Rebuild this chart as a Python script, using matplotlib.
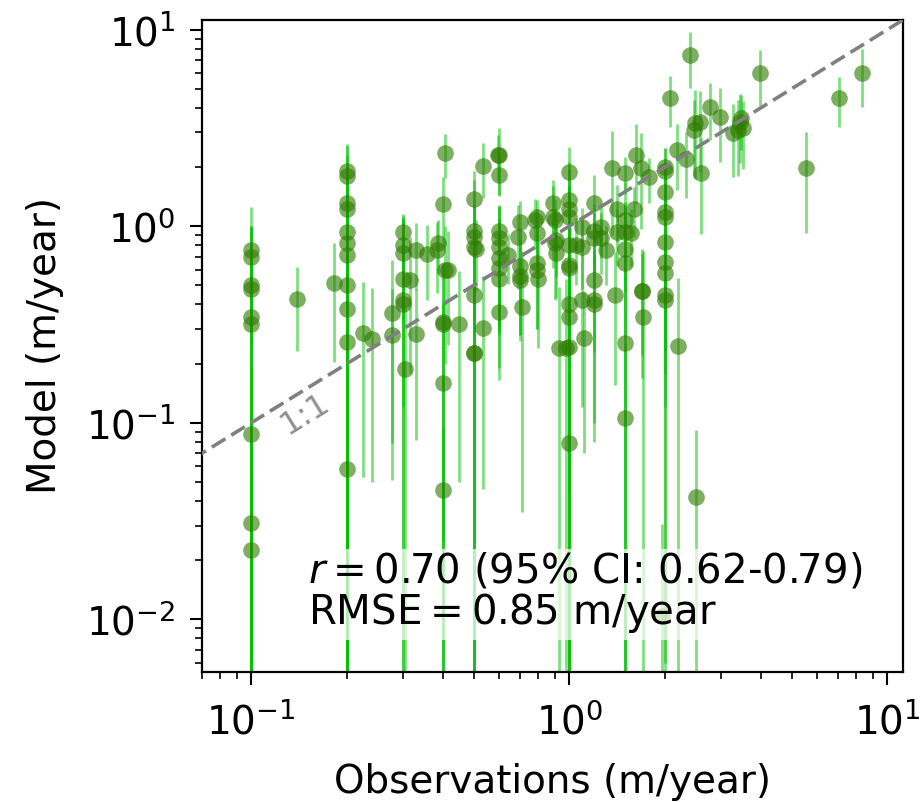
import numpy as np
import matplotlib
matplotlib.use("Agg")
import matplotlib.pyplot as plt

# Observations (m/year)
obs = [0.1, 0.1, 0.1, 0.1, 0.1, 0.1, 0.1, 0.1, 0.1,
       0.139, 0.182,
       0.2, 0.2, 0.2, 0.2, 0.2, 0.2, 0.2, 0.2, 0.2, 0.2, 0.2,
       0.224, 0.239, 0.278, 0.278,
       0.3, 0.3, 0.3, 0.3, 0.3, 0.3, 0.305, 0.316,
       0.33, 0.33, 0.357, 0.384, 0.387,
       0.407, 0.4, 0.407, 0.416, 0.4, 0.4, 0.4, 0.4,
       0.45,
       0.5, 0.5, 0.5, 0.5, 0.51, 0.5, 0.5, 0.5,
       0.535, 0.535,
       0.596, 0.6, 0.6, 0.6, 0.6, 0.6, 0.6, 0.6, 0.6, 0.6,
       0.64,
       0.70, 0.69, 0.70, 0.70, 0.70, 0.71,
       0.78, 0.79, 0.79, 0.79, 0.79, 0.80,
       0.89, 0.89, 0.90, 0.91, 0.90, 0.91, 0.93,
       1.0, 1.0, 1.0, 1.0, 1.0, 1.05, 1.0, 1.0, 1.0, 1.0, 1.0, 0.98, 1.0,
       1.1, 1.1, 1.1, 1.11,
       1.2, 1.2, 1.2, 1.2, 1.2, 1.2,
       1.26, 1.26, 1.3, 1.36, 1.39, 1.41, 1.41,
       1.5, 1.5, 1.5, 1.5, 1.5, 1.5, 1.5,
       1.56, 1.6, 1.62, 1.68, 1.78, 1.69, 1.69, 1.71,
       2.0, 2.0, 2.0, 2.0, 2.0, 2.0, 2.0, 2.0, 2.0, 2.0, 1.95,
       2.08, 2.18, 2.19, 2.33, 2.39, 2.46, 2.49, 2.58, 2.5, 2.6,
       2.78, 2.98, 3.28, 3.39, 3.45, 3.47, 3.52, 3.98, 5.54, 7.03, 8.3]

# Model (m/year)
model = [0.755, 0.70, 0.50, 0.48, 0.345, 0.32, 0.088, 0.031, 0.0225,
         0.425, 0.513,
         1.9, 1.8, 1.31, 1.22, 0.93, 0.82, 0.71, 0.50, 0.38, 0.257, 0.058,
         0.286, 0.267, 0.361, 0.279,
         0.93, 0.80, 0.73, 0.54, 0.42, 0.40, 0.187, 0.53,
         0.755, 0.282, 0.72, 0.755, 0.82,
         2.35, 1.29, 0.60, 0.60, 0.325, 0.32, 0.16, 0.0455,
         0.32,
         1.37, 0.95, 0.88, 0.78, 0.77, 0.446, 0.226, 0.226,
         2.02, 0.303,
         2.3, 2.3, 1.82, 0.95, 0.87, 0.78, 0.69, 0.61, 0.54, 0.366,
         0.71,
         1.05, 0.88, 0.63, 0.56, 0.53, 0.39,
         1.07, 1.11, 0.92, 0.65, 0.60, 0.54,
         1.32, 1.11, 1.07, 0.85, 0.82, 0.73, 0.24,
         1.88, 1.36, 1.23, 1.11, 0.8, 0.8, 0.634, 0.61, 0.40, 0.345, 0.243, 0.24, 0.079,
         0.99, 0.78, 0.42, 0.27,
         1.32, 0.95, 0.87, 0.53, 0.42, 0.40,
         0.99, 0.87, 0.755, 1.97, 0.446, 1.23, 0.93,
         1.86, 1.07, 0.93, 0.77, 0.65, 0.254, 0.106,
         0.92, 1.23, 2.3, 1.97, 1.77, 0.47, 0.47, 0.345,
         2.0, 1.9, 1.49, 1.18, 1.11, 0.83, 0.656, 0.577, 0.446, 0.42, 0.0104,
         4.48, 2.43, 0.245, 2.2, 7.4, 3.07, 3.34, 3.38, 0.042, 1.86,
         4.03, 3.58, 2.97, 3.1, 3.4, 3.54, 3.15, 6.0, 1.97, 4.48, 6.0]

# Model uncertainty (m/year, symmetric)
model_err = [0.5, 0.3, 0.5, 0.5, 0.4, 0.35, 0.1, 0.05, 0.03,
             0.194, 0.31,
             0.65, 0.5, 1.3, 0.8, 0.93, 0.6, 0.71, 0.5, 0.4, 0.3, 0.06,
             0.233, 0.217, 0.31, 0.2,
             0.23, 0.3, 0.4, 0.54, 0.3, 0.45, 0.2, 0.35,
             0.28, 0.2, 0.3, 0.3, 0.25,
             0.6, 0.5, 0.4, 0.35, 0.3, 0.33, 0.25, 0.05,
             0.27,
             0.35, 0.95, 0.4, 0.5, 0.3, 0.45, 0.25, 0.3,
             0.63, 0.257,
             0.6, 0.85, 0.4, 0.3, 0.4, 0.5, 0.4, 0.3, 0.35, 0.2,
             0.2,
             0.3, 0.4, 0.35, 0.3, 0.25, 0.355,
             0.3, 0.25, 0.3, 0.35, 0.3, 0.3,
             0.4, 0.5, 0.3, 0.3, 0.4, 0.3, 0.25,
             0.64, 0.6, 0.9, 0.5, 0.8, 0.3, 0.4, 0.61, 0.4, 0.3, 0.25, 0.3, 0.1,
             0.25, 0.3, 0.3, 0.2,
             0.5, 0.35, 0.3, 0.3, 0.34, 0.3,
             0.3, 0.3, 0.25, 1.07, 0.29, 0.4, 0.3,
             0.4, 0.6, 0.4, 0.5, 0.65, 0.3, 0.15,
             0.3, 0.35, 1.0, 1.0, 0.45, 0.25, 0.3, 0.4,
             0.5, 0.6, 0.5, 0.8, 0.4, 0.6, 0.65, 0.4, 0.45, 0.3, 0.02,
             1.3, 0.9, 0.3, 0.8, 2.35, 1.3, 1.6, 1.5, 0.05, 0.95,
             1.3, 1.45, 1.2, 1.3, 1.3, 1.1, 1.2, 1.9, 1.05, 1.28, 1.95]

stats_text = "$r=$0.70 (95% CI: 0.62-0.79)\nRMSE$=$0.85 m/year"
x_label = "Observations (m/year)"
y_label = "Model (m/year)"
x_limits = (0.07, 11.2)
y_limits = (0.0054, 11.2)

plt.rcParams['font.family'] = ['DejaVu Sans']
plt.rcParams['mathtext.fontset'] = 'dejavusans'

fig = plt.figure(figsize=(9.21, 8.02), dpi=100)
ax = fig.add_axes([0.2193, 0.1621, 0.7611, 0.813])
ax.set_xscale('log')
ax.set_yscale('log')

ax.errorbar(obs, model, yerr=model_err, fmt='none', ecolor='#00c000',
            elinewidth=2.0, alpha=0.5, zorder=2)
ax.plot(obs, model, 'o', color='#2e7d00', alpha=0.62, markersize=12,
        markeredgewidth=0, zorder=3)

ax.set_xlim(*x_limits)
ax.set_ylim(*y_limits)

lo = min(x_limits[0], y_limits[0])
hi = max(x_limits[1], y_limits[1])
ax.plot([lo, hi], [lo, hi], color='gray', lw=2.6, linestyle=(0, (4.4, 1.9)),
        zorder=4)

# rotation of 1:1 label in screen space
p1 = ax.transData.transform((0.1, 0.1))
p2 = ax.transData.transform((1.0, 1.0))
ang = np.degrees(np.arctan2(p2[1] - p1[1], p2[0] - p1[0]))
ax.text(0.148, 0.111, "1:1", color='#909090', fontsize=23, rotation=ang,
        rotation_mode='anchor', ha='center', va='center', zorder=5)

ax.text(0.151, 0.056, stats_text, transform=ax.transAxes, fontsize=29,
        ha='left', va='bottom', linespacing=1.0, zorder=6,
        bbox=dict(boxstyle='square,pad=0.12', facecolor='white',
                  edgecolor='none', alpha=0.7))

ax.set_xlabel(x_label, fontsize=28, labelpad=15)
ax.set_ylabel(y_label, fontsize=28, labelpad=16)
ax.tick_params(which='major', labelsize=28, length=9, width=1.5, pad=10)
ax.tick_params(axis='x', which='major', pad=13)
ax.tick_params(which='minor', length=5, width=1.2)
for s in ax.spines.values():
    s.set_linewidth(1.6)

fig.savefig("out.png", dpi=100)
